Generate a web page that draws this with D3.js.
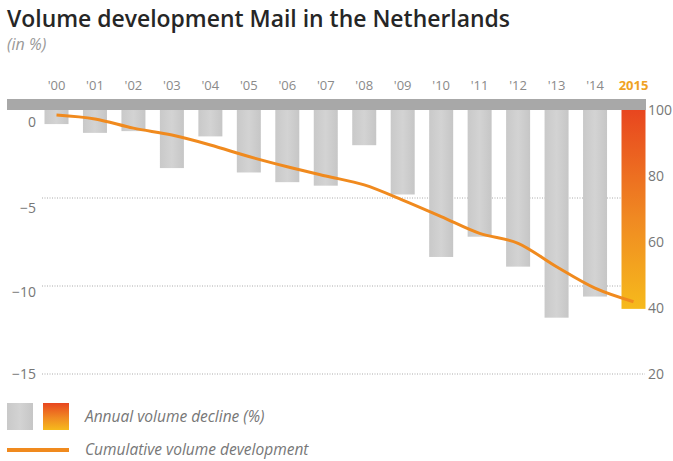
<!DOCTYPE html>
<html>
<head>
<meta charset="utf-8">
<style>
  body { margin: 0; background: #fff; }
  svg text { font-family: "Open Sans", sans-serif; }
  .grid line { stroke: #aaa; stroke-dasharray: 1 1.5; }
  .line { fill: none; stroke: #f08a1e; stroke-width: 3; }
</style>
<script src="https://d3js.org/d3.v7.min.js"></script>
</head>
<body>
<svg width="673" height="461"></svg>
<script>
var years = ["'00", "'01", "'02", "'03", "'04", "'05", "'06", "'07", "'08", "'09", "'10", "'11", "'12", "'13", "'14", "2015"];
var decline = [-0.8, -1.3, -1.2, -3.3, -1.5, -3.55, -4.1, -4.3, -2.0, -4.8, -8.35, -7.2, -8.9, -11.8, -10.6, -11.3];
var cumulative = [98.5, 97.3, 94.5, 92.4, 89.4, 85.9, 82.8, 80.0, 77.3, 72.7, 67.7, 62.6, 59.6, 52.5, 46.0, 41.9];
var leftTicks = [0, -5, -10, -15];
var rightTicks = [100, 80, 60, 40, 20];

var svg = d3.select("svg");

var x = d3.scalePoint().domain(years).range([56.5, 633.5]);
var barW = 24;
var yL = d3.scaleLinear().domain([-15, 0]).range([374, 110]);
var yR = d3.scaleLinear().domain([20, 100]).range([374, 110]);

// title
svg.append("text").attr("x", 7).attr("y", 27)
    .attr("font-size", 23).attr("font-weight", 600).attr("fill", "#262626")
    .attr("textLength", 503).attr("lengthAdjust", "spacingAndGlyphs")
    .text("Volume development Mail in the Netherlands");
svg.append("text").attr("x", 7).attr("y", 50)
    .attr("font-size", 16).attr("font-style", "italic").attr("fill", "#999")
    .text("(in %)");

// gradients
var defs = svg.append("defs");
var g1 = defs.append("linearGradient").attr("id", "hot").attr("x1", 0).attr("x2", 0).attr("y1", 0).attr("y2", 1);
g1.append("stop").attr("offset", "0%").attr("stop-color", "#e8461f");
g1.append("stop").attr("offset", "55%").attr("stop-color", "#f08a22");
g1.append("stop").attr("offset", "100%").attr("stop-color", "#f6ba1c");
var g2 = defs.append("linearGradient").attr("id", "grey").attr("x1", 0).attr("x2", 1).attr("y1", 0).attr("y2", 0);
g2.append("stop").attr("offset", "0%").attr("stop-color", "#c9c9c9");
g2.append("stop").attr("offset", "50%").attr("stop-color", "#d3d3d3");
g2.append("stop").attr("offset", "100%").attr("stop-color", "#c6c6c6");

// dotted grid
svg.append("g").attr("class", "grid")
  .selectAll("line").data(leftTicks.slice(1)).join("line")
    .attr("x1", 42).attr("x2", 645)
    .attr("y1", function(d) { return yL(d); })
    .attr("y2", function(d) { return yL(d); });

// bars
svg.append("g").selectAll("rect").data(decline).join("rect")
    .attr("x", function(d, i) { return x(years[i]) - barW / 2; })
    .attr("y", yL(0))
    .attr("width", barW)
    .attr("height", function(d) { return yL(d) - yL(0); })
    .attr("fill", function(d, i) { return i == years.length - 1 ? "url(#hot)" : "url(#grey)"; });

// top band
svg.append("rect").attr("x", 7).attr("y", 99).attr("width", 639).attr("height", 11).attr("fill", "#a8a8a8");

// year labels
svg.append("g").selectAll("text").data(years).join("text")
    .attr("x", function(d) { return x(d); })
    .attr("y", 90)
    .attr("text-anchor", "middle")
    .attr("font-size", 13)
    .attr("font-weight", function(d) { return d == "2015" ? 700 : 400; })
    .attr("fill", function(d) { return d == "2015" ? "#f0a224" : "#8a8a8a"; })
    .text(function(d) { return d; });

// cumulative line
var line = d3.line()
    .x(function(d, i) { return x(years[i]); })
    .y(function(d) { return yR(d); })
    .curve(d3.curveMonotoneX);
svg.append("path").datum(cumulative).attr("class", "line").attr("d", line);

// left axis
var leftAxis = svg.append("g").attr("transform", "translate(36,0)")
    .call(d3.axisLeft(yL).tickValues(leftTicks).tickSize(0).tickPadding(0).tickFormat(d3.format("d")));
leftAxis.select(".domain").remove();
leftAxis.selectAll("text").attr("font-size", 14).attr("fill", "#777")
    .attr("dy", function(d) { return d == 0 ? "1.15em" : (d == -5 ? "1.0em" : (d == -10 ? "0.75em" : "0.32em")); });

// right axis
var rightAxis = svg.append("g").attr("transform", "translate(648,0)")
    .call(d3.axisRight(yR).tickValues(rightTicks).tickSize(0).tickPadding(0));
rightAxis.select(".domain").remove();
rightAxis.selectAll("text").attr("font-size", 14).attr("fill", "#777");

// legend
svg.append("rect").attr("x", 7).attr("y", 403).attr("width", 26).attr("height", 27).attr("fill", "url(#grey)");
svg.append("rect").attr("x", 43).attr("y", 403).attr("width", 26).attr("height", 27).attr("fill", "url(#hot)");
svg.append("text").attr("x", 85).attr("y", 422).attr("font-size", 15.5).attr("font-style", "italic").attr("fill", "#777")
    .text("Annual volume decline (%)");
svg.append("line").attr("x1", 7).attr("x2", 69).attr("y1", 450).attr("y2", 450)
    .attr("stroke", "#f08a1e").attr("stroke-width", 4);
svg.append("text").attr("x", 85).attr("y", 455).attr("font-size", 15.5).attr("font-style", "italic").attr("fill", "#777")
    .text("Cumulative volume development");
</script>
</body>
</html>
